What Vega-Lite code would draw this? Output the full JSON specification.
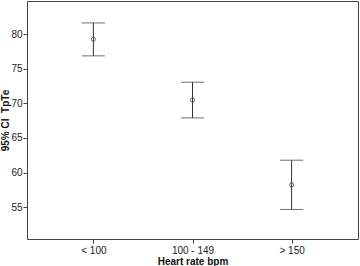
{
  "$schema": "https://vega.github.io/schema/vega-lite/v6.json",
  "width": 331,
  "height": 238,
  "autosize": "none",
  "padding": {"left": 27, "top": 1, "right": 2, "bottom": 27},
  "background": "white",
  "config": {
    "view": {"stroke": "#444", "strokeWidth": 1},
    "axis": {"grid": false, "domain": false, "labelFont": "Liberation Sans", "titleFont": "Liberation Sans", "labelColor": "#222", "titleColor": "#111", "labelFontSize": 10, "titleFontSize": 10, "tickColor": "#444", "tickSize": 4}
  },
  "data": {"values": [
    {"hr": "< 100", "mean": 79.28, "lo": 76.87, "hi": 81.63},
    {"hr": "100 - 149", "mean": 70.46, "lo": 67.9, "hi": 73.06},
    {"hr": "> 150", "mean": 58.22, "lo": 54.67, "hi": 61.79}
  ]},
  "encoding": {
    "x": {"field": "hr", "type": "nominal", "sort": null,
      "scale": {"type": "point", "padding": 0.67},
      "axis": {"title": "Heart rate bpm", "labelAngle": 0, "labelPadding": 2, "titlePadding": 1, "titleFontWeight": "bold"}}
  },
  "layer": [
    {"mark": {"type": "rule", "color": "#333", "strokeWidth": 1},
     "encoding": {
       "y": {"field": "lo", "type": "quantitative", "scale": {"domain": [50.4, 84.8], "nice": false, "zero": false},
         "axis": {"title": "95% CI\u00a0\u00a0TpTe", "values": [55, 60, 65, 70, 75, 80], "labelPadding": 1, "titlePadding": 0, "titleFontWeight": "bold"}},
       "y2": {"field": "hi"}
     }},
    {"mark": {"type": "tick", "color": "#333", "size": 23, "thickness": 1},
     "encoding": {"y": {"field": "lo", "type": "quantitative"}}},
    {"mark": {"type": "tick", "color": "#333", "size": 23, "thickness": 1},
     "encoding": {"y": {"field": "hi", "type": "quantitative"}}},
    {"mark": {"type": "point", "shape": "circle", "filled": false, "color": "#333", "size": 18, "strokeWidth": 1},
     "encoding": {"y": {"field": "mean", "type": "quantitative"}}}
  ]
}
